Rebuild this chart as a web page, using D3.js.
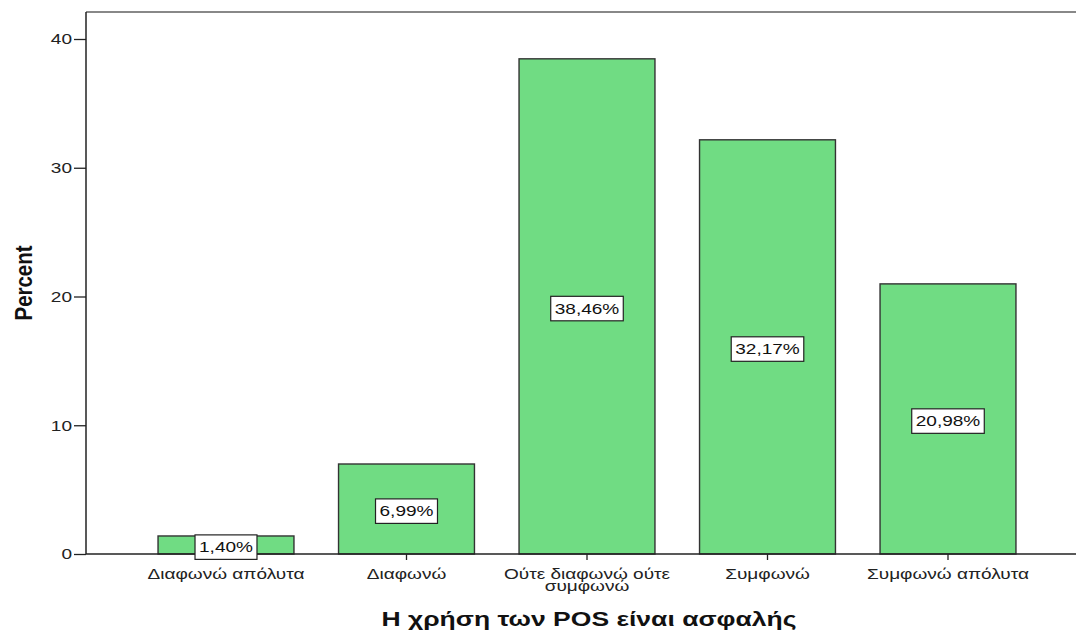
<!DOCTYPE html>
<html lang="el">
<head>
<meta charset="UTF-8">
<title>Η χρήση των POS είναι ασφαλής</title>
<script src="https://d3js.org/d3.v7.min.js"></script>
<style>
  body { margin: 0; background: #fff; font-family: "Liberation Sans", Arial, sans-serif; }
  .bar { fill: #70dc83; stroke: #333; stroke-width: 1.4; }
  .tick text { font-size: 15px; fill: #222; font-family: "Liberation Sans", Arial, sans-serif; }
  .lbl-box { fill: #fff; stroke: #222; stroke-width: 1.2; }
  .lbl { font-size: 15px; fill: #111; }
</style>
</head>
<body>
<svg width="1076" height="632"></svg>
<script>
const categories = ["Διαφωνώ απόλυτα", "Διαφωνώ", "Ούτε διαφωνώ ούτε συμφωνώ", "Συμφωνώ", "Συμφωνώ απόλυτα"];
const percents = [1.40, 6.99, 38.46, 32.17, 20.98];
const yTicks = [0, 10, 20, 30, 40];

const data = categories.map((c, i) => ({ cat: c, val: percents[i] }));

// the original renders its text a bit stretched sideways
const stretch = 1.27;

const svg = d3.select("svg");
const plotLeft = 86, plotRight = 1076, plotTop = 12, plotBottom = 554;

const x = d3.scaleBand()
  .domain(categories)
  .range([135.75, 1038.25])
  .paddingInner(0.247)
  .paddingOuter(0.1235);

const y = d3.scaleLinear()
  .domain([0, 40])
  .range([plotBottom, 39]);

// top frame line
svg.append("line")
  .attr("x1", plotLeft).attr("x2", plotRight)
  .attr("y1", plotTop).attr("y2", plotTop)
  .attr("stroke", "#888").attr("stroke-width", 2);

// bars
svg.selectAll(".bar")
  .data(data)
  .enter().append("rect")
  .attr("class", "bar")
  .attr("x", d => x(d.cat))
  .attr("y", d => y(d.val))
  .attr("width", x.bandwidth())
  .attr("height", d => y(0) - y(d.val));

// y axis
const yAxis = svg.append("g")
  .attr("transform", `translate(${plotLeft},0)`)
  .call(d3.axisLeft(y).tickValues(yTicks).tickSize(12).tickPadding(0).tickSizeOuter(0));
yAxis.select(".domain").remove();
yAxis.append("line")
  .attr("x1", 0).attr("x2", 0).attr("y1", plotTop).attr("y2", plotBottom)
  .attr("stroke", "#222").attr("stroke-width", 1.5);
yAxis.selectAll(".tick line").attr("stroke", "#222").attr("stroke-width", 1.3);
yAxis.selectAll(".tick text")
  .attr("x", -11)
  .attr("transform", `scale(${stretch},1)`);

// x axis
const xAxis = svg.append("g")
  .attr("transform", `translate(0,${plotBottom})`)
  .call(d3.axisBottom(x).tickSize(6).tickPadding(8).tickSizeOuter(0));
xAxis.select(".domain").remove();
xAxis.append("line")
  .attr("x1", plotLeft).attr("x2", plotRight).attr("y1", 0).attr("y2", 0)
  .attr("stroke", "#222").attr("stroke-width", 1.5);
xAxis.selectAll(".tick line").attr("stroke", "#222").attr("stroke-width", 1.3);
xAxis.selectAll(".tick text").attr("transform", `scale(${stretch},1)`);

// wrap the long category label on two lines
xAxis.selectAll(".tick text").each(function(d) {
  if (d === "Ούτε διαφωνώ ούτε συμφωνώ") {
    const t = d3.select(this);
    t.text(null);
    t.append("tspan").attr("x", 0).attr("dy", "0.71em").text("Ούτε διαφωνώ ούτε");
    t.append("tspan").attr("x", 0).attr("dy", "0.82em").text("συμφωνώ");
  }
});

// value labels at mid-height of each bar
const labels = svg.selectAll(".val")
  .data(data)
  .enter().append("g")
  .attr("class", "val")
  .attr("transform", d => `translate(${x(d.cat) + x.bandwidth() / 2},${y(d.val / 2) + 2})`);

labels.append("text")
  .attr("class", "lbl")
  .attr("text-anchor", "middle")
  .attr("dy", "0.36em")
  .attr("transform", `scale(${stretch},1)`)
  .text(d => d.val.toFixed(2).replace(".", ",") + "%");

labels.each(function() {
  const g = d3.select(this);
  const bb = g.select("text").node().getBBox();
  const w = bb.width * stretch;
  g.insert("rect", "text")
    .attr("class", "lbl-box")
    .attr("x", -w / 2 - 4).attr("y", bb.y - 3.5)
    .attr("width", w + 8).attr("height", bb.height + 7);
});

// axis titles
svg.append("text")
  .attr("transform", "translate(32,283) rotate(-90)")
  .attr("text-anchor", "middle")
  .attr("font-weight", "bold")
  .attr("font-size", 23)
  .attr("textLength", 75)
  .attr("lengthAdjust", "spacingAndGlyphs")
  .attr("fill", "#111")
  .text("Percent");

svg.append("g")
  .attr("transform", "translate(589,626)")
  .append("text")
  .attr("text-anchor", "middle")
  .attr("font-weight", "bold")
  .attr("font-size", 19.5)
  .attr("transform", "scale(1.36,1)")
  .attr("fill", "#111")
  .text("Η χρήση των POS είναι ασφαλής");
</script>
</body>
</html>
